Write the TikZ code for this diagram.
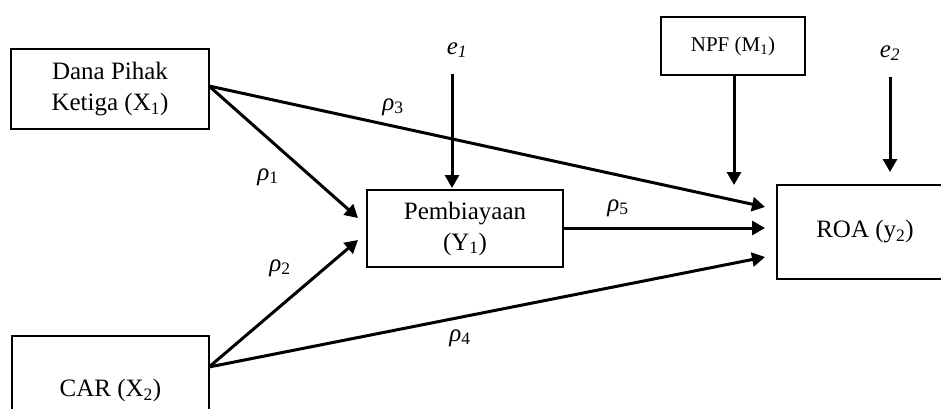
\documentclass[tikz,border=0pt]{standalone}
\usepackage{fontspec}
\setmainfont{Liberation Serif}
\usetikzlibrary{arrows.meta}
\begin{document}
\begin{tikzpicture}[x=1pt,y=-1pt,
  box/.style={draw,line width=1.5pt,inner sep=0pt,align=center,font=\fontsize{25}{31}\selectfont},
  lbl/.style={inner sep=0pt,font=\fontsize{25}{30}\selectfont},
  arr/.style={line width=3pt,-{Triangle[length=13pt,width=14pt]}}]
\useasboundingbox (0,0) rectangle (941,409);
\begin{scope}
\clip (0,0) rectangle (941,409);
\node[box,minimum width=198pt,minimum height=80pt] (x1) at (110,89) {Dana Pihak\\Ketiga (X\textsubscript{1})};
\node[box,minimum width=197pt,minimum height=104pt,text depth=0pt] (x2) at (110.5,388) {CAR (X\textsubscript{2})};
\node[box,minimum width=196pt,minimum height=77pt] (y1) at (465,228.5) {Pembiayaan\\(Y\textsubscript{1})};
\node[box,minimum width=144pt,minimum height=58pt,font=\fontsize{21}{25}\selectfont] (npf) at (733,46) {NPF (M\textsubscript{1})};
\node[box,minimum width=176pt,minimum height=94pt] (roa) at (865,232) {ROA (y\textsubscript{2})};
\end{scope}
\node[lbl] (e1) at (457,50) {\itshape e\textsubscript{1}};
\node[lbl] (e2) at (890,53) {\itshape e\textsubscript{2}};
\coordinate (s1) at (209,86);
\coordinate (s2) at (209,367);
\coordinate (t1) at (358,218);
\coordinate (t2) at (358,240);
\coordinate (r3) at (765,207);
\coordinate (r5) at (765,228);
\coordinate (r4) at (765,257);
\coordinate (e1b) at (452,74);
\coordinate (e1t) at (452,188);
\coordinate (e2b) at (890,77);
\coordinate (e2t) at (890,172);
\coordinate (nt) at (734,185);
\draw[arr] (s1) -- (t1);
\draw[arr] (s2) -- (t2);
\draw[arr] (s1) -- (r3);
\draw[arr] (s2) -- (r4);
\draw[arr] (y1.east |- r5) -- (r5);
\draw[arr] (e1b) -- (e1t);
\draw[arr] (e2b) -- (e2t);
\draw[arr] (npf.south -| nt) -- (nt);
\node[lbl] (p1) at (268,177) {\itshape ρ\textsubscript{\upshape 1}};
\node[lbl] (p2) at (280,268) {\itshape ρ\textsubscript{\upshape 2}};
\node[lbl] (p3) at (393,107) {\itshape ρ\textsubscript{\upshape 3}};
\node[lbl] (p4) at (460,338) {\itshape ρ\textsubscript{\upshape 4}};
\node[lbl] (p5) at (618,208) {\itshape ρ\textsubscript{\upshape 5}};
\end{tikzpicture}
\end{document}
